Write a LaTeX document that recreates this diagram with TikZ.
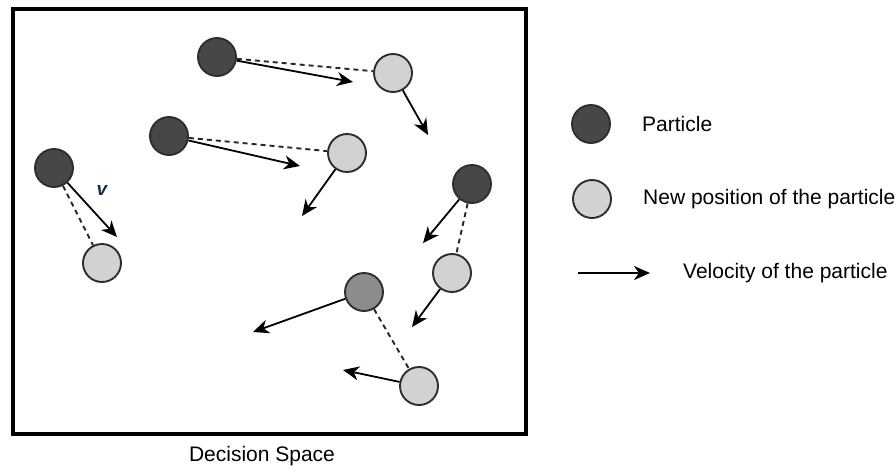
\documentclass[tikz,border=0pt]{standalone}
\usepackage{fontspec}
\setmainfont{Liberation Sans}
\usetikzlibrary{arrows.meta}
\definecolor{pdark}{HTML}{474747}
\definecolor{pmid}{HTML}{8C8C8C}
\definecolor{plight}{HTML}{D2D2D2}
\definecolor{pedge}{HTML}{2E2E2E}
\definecolor{vlabel}{HTML}{1A2A55}
\begin{document}
\begin{tikzpicture}[x=1pt,y=-1pt,
  ball/.style={circle,draw=pedge,line width=1.9pt,minimum size=38pt,inner sep=0pt},
  particle/.style={ball,fill=pdark},
  movedparticle/.style={ball,fill=pmid},
  newpos/.style={ball,fill=plight},
  velocity/.style={draw=black,line width=1.8pt,-{Stealth[length=16pt,width=14pt,inset=5pt]}},
  trail/.style={draw=black!85,line width=1.9pt,dash pattern=on 5pt off 4pt},
  label/.style={font=\fontsize{21}{25}\selectfont,inner sep=0pt}]
\useasboundingbox (0,0) rectangle (896,472);
% decision space frame
\draw[line width=3.6pt] (13,9) rectangle (526,434);
\node[label] (title) at (262,456) {Decision Space};

% particles and their new positions
\node[particle] (p1) at (217,57) {};
\node[newpos]   (n1) at (393,73) {};
\node[particle] (p2) at (169,136) {};
\node[newpos]   (n2) at (347,153) {};
\node[particle] (p3) at (54,168) {};
\node[newpos]   (n3) at (102,263) {};
\node[particle] (p4) at (472,184) {};
\node[newpos]   (n4) at (452,273) {};
\node[movedparticle] (p5) at (364,292) {};
\node[newpos]   (n5) at (419,386) {};

% velocity end points
\coordinate (v1) at (353,82);
\coordinate (w1) at (428,135);
\coordinate (v2) at (300,166);
\coordinate (w2) at (302,216);
\coordinate (v3) at (117,237);
\coordinate (v4) at (423,243);
\coordinate (w4) at (412,327);
\coordinate (v5) at (253,332);
\coordinate (w5) at (343,370);

% trails from old to new positions
\draw[trail] (p1) -- (n1);
\draw[trail] (p2) -- (n2);
\draw[trail] (p3) -- (n3);
\draw[trail] (p4) -- (n4);
\draw[trail] (p5) -- (n5);

% velocities
\draw[velocity] (p1) -- (v1);
\draw[velocity] (n1) -- (w1);
\draw[velocity] (p2) -- (v2);
\draw[velocity] (n2) -- (w2);
\draw[velocity] (p3) -- (v3);
\draw[velocity] (p4) -- (v4);
\draw[velocity] (n4) -- (w4);
\draw[velocity] (p5) -- (v5);
\draw[velocity] (n5) -- (w5);

\node[inner sep=0pt,text=vlabel,font=\fontsize{19}{21}\selectfont\bfseries\itshape] (vl) at (102,190) {v};

% legend
\node[particle] (lp) at (591,124) {};
\node[label,anchor=west] (lpt) at (642,124) {Particle};
\node[newpos] (ln) at (592,199) {};
\node[label,anchor=west] (lnt) at (643,199) {New position of the particle};
\coordinate (la) at (578,273);
\coordinate (lb) at (650,273);
\draw[velocity] (la) -- (lb);
\node[label,anchor=west] (lvt) at (683,273) {Velocity of the particle};
\end{tikzpicture}
\end{document}
